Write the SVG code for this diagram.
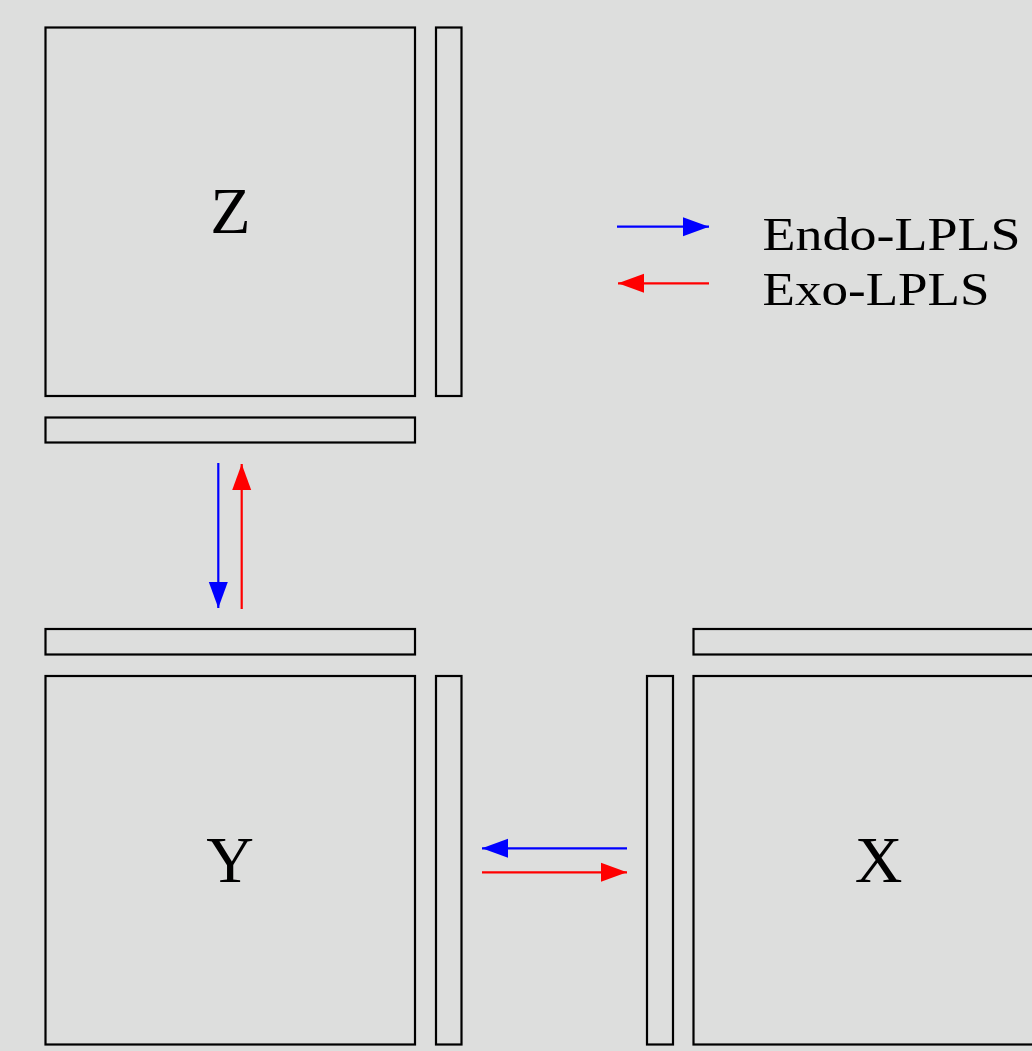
<svg xmlns="http://www.w3.org/2000/svg" width="1032" height="1051" viewBox="0 0 1032 1051">
<style>
.box{fill:none;stroke:#000;stroke-width:2.2}
.lbl{font-family:"Liberation Serif","DejaVu Serif",serif;fill:#000}
.big{font-size:66px;text-anchor:middle}
.leg{font-size:46px}
.blue{stroke:#0000ff;stroke-width:2.2;fill:none}
.red{stroke:#ff0000;stroke-width:2.2;fill:none}
</style>
<defs>
<marker id="hb" markerUnits="userSpaceOnUse" markerWidth="26" markerHeight="20" refX="26" refY="10" orient="auto"><path d="M0,0.5 L26,10 L0,19.5 Z" fill="#0000ff"/></marker>
<marker id="hr" markerUnits="userSpaceOnUse" markerWidth="26" markerHeight="20" refX="26" refY="10" orient="auto"><path d="M0,0.5 L26,10 L0,19.5 Z" fill="#ff0000"/></marker>
</defs>
<rect width="1032" height="1051" fill="#dddedd"/>
<g id="node-Z">
<rect class="box" x="45.5" y="27.5" width="369.5" height="368.5"/>
<rect class="box" x="436" y="27.5" width="25.5" height="368.5"/>
<rect class="box" x="45.5" y="417.5" width="369.5" height="25"/>
<text class="lbl big" x="230.5" y="233">Z</text>
</g>
<g id="node-Y">
<rect class="box" x="45.5" y="629" width="369.5" height="25.5"/>
<rect class="box" x="45.5" y="676" width="369.5" height="368.5"/>
<rect class="box" x="436" y="676" width="25.5" height="368.5"/>
<text class="lbl big" x="230" y="882">Y</text>
</g>
<g id="node-X">
<rect class="box" x="693.5" y="629" width="369.5" height="25.5"/>
<rect class="box" x="693.5" y="676" width="369.5" height="368.5"/>
<rect class="box" x="647" y="676" width="26" height="368.5"/>
<text class="lbl big" x="878.5" y="882">X</text>
</g>
<g id="legend">
<line class="blue" x1="617" y1="226.7" x2="709" y2="226.7" marker-end="url(#hb)"/>
<line class="red" x1="709" y1="283.3" x2="618" y2="283.3" marker-end="url(#hr)"/>
<text class="lbl leg" x="762.5" y="249.5" textLength="258" lengthAdjust="spacingAndGlyphs">Endo-LPLS</text>
<text class="lbl leg" x="762.5" y="305" textLength="227" lengthAdjust="spacingAndGlyphs">Exo-LPLS</text>
</g>
<g id="connectors">
<line class="blue" x1="218.3" y1="463" x2="218.3" y2="608" marker-end="url(#hb)"/>
<line class="red" x1="241.7" y1="609" x2="241.7" y2="464" marker-end="url(#hr)"/>
<line class="blue" x1="627" y1="848.3" x2="482" y2="848.3" marker-end="url(#hb)"/>
<line class="red" x1="482" y1="872.3" x2="627" y2="872.3" marker-end="url(#hr)"/>
</g>
</svg>
